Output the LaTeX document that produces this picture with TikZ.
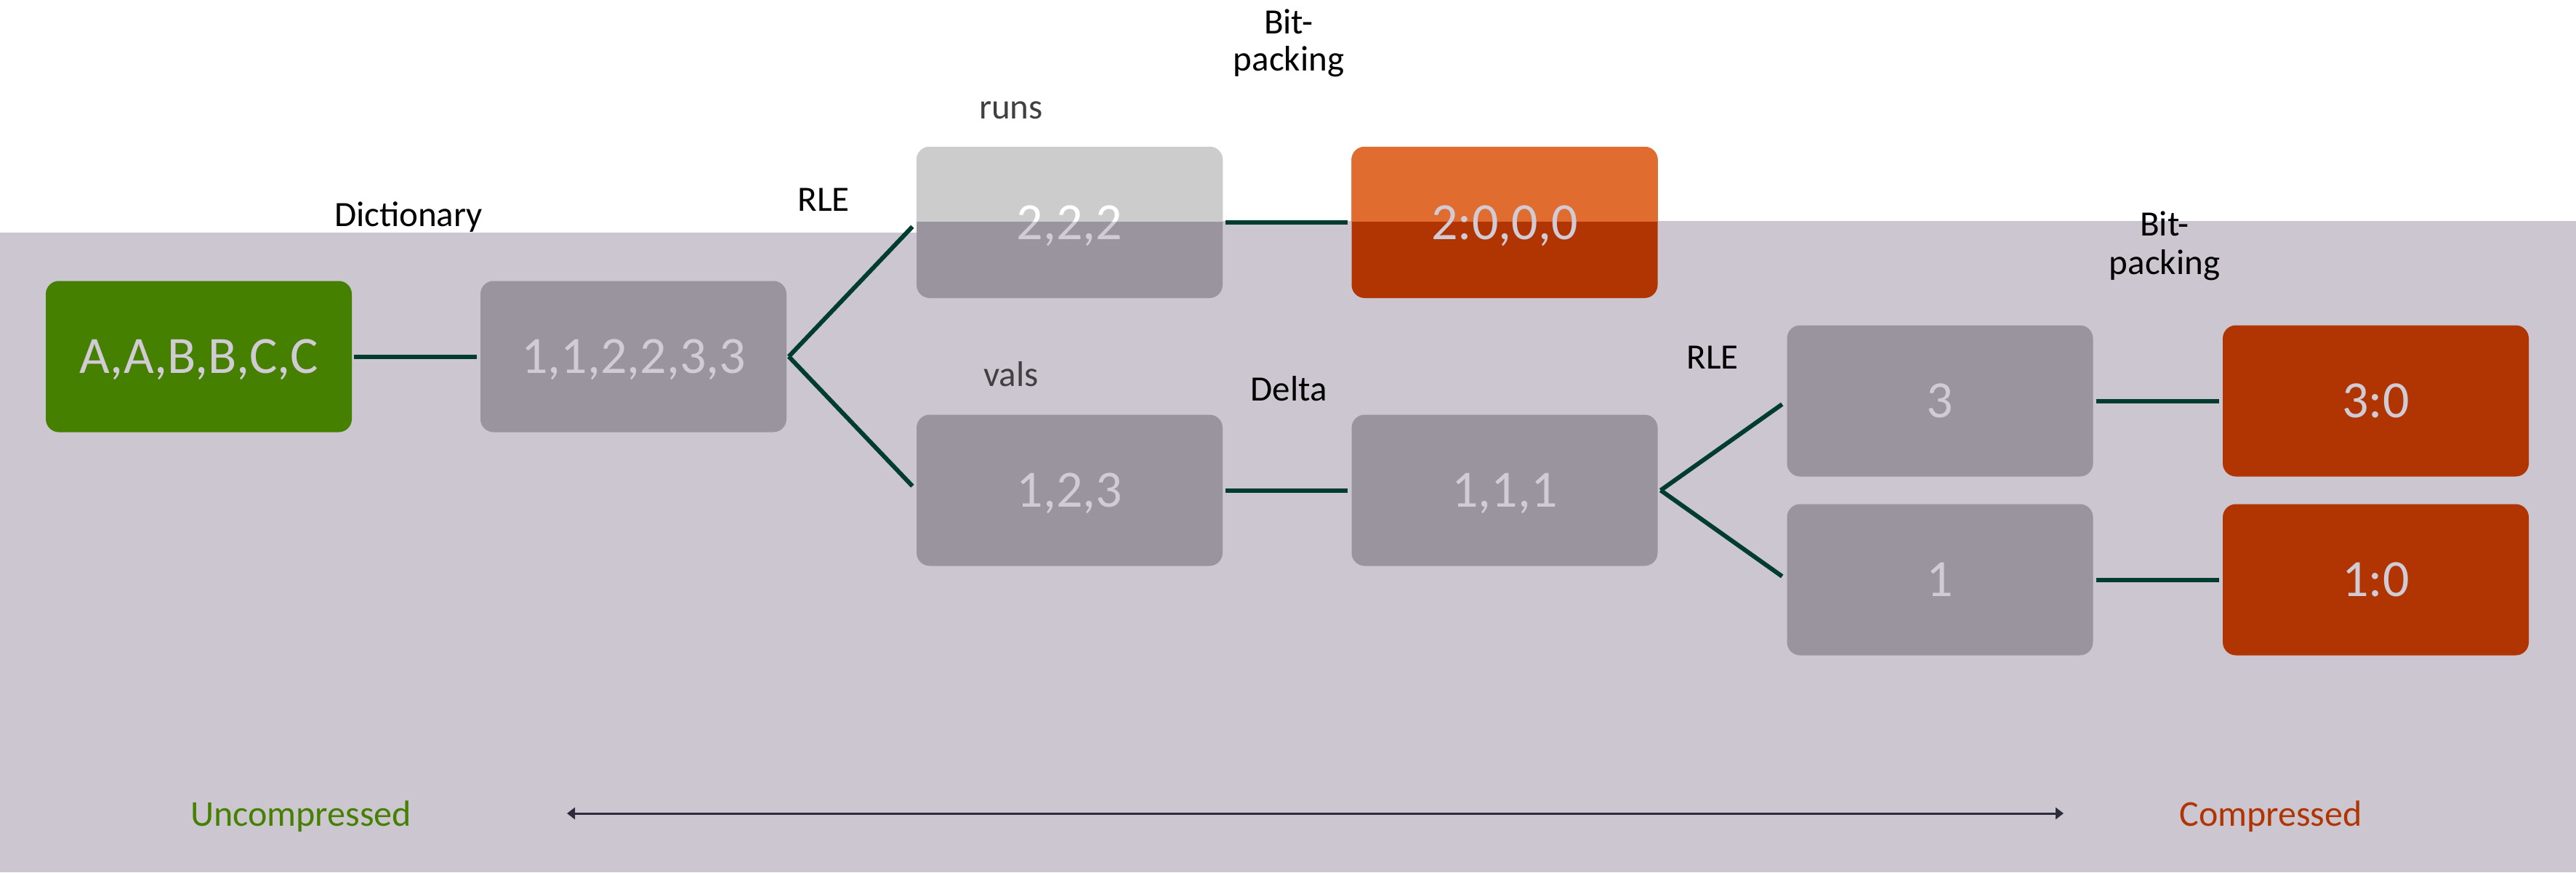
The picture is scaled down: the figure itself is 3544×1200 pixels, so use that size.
\documentclass[tikz,border=0pt]{standalone}
\usepackage{fontspec}
\setmainfont{Carlito}
\usetikzlibrary{arrows.meta}
\definecolor{band}{HTML}{CBC6D0}
\definecolor{gbox}{HTML}{9A949F}
\definecolor{gboxlt}{HTML}{CCCCCC}
\definecolor{obox}{HTML}{B03503}
\definecolor{oboxlt}{HTML}{E06C30}
\definecolor{grn}{HTML}{468000}
\definecolor{conn}{HTML}{003D30}
\definecolor{btxt}{HTML}{D0CBD4}
\definecolor{lbl}{HTML}{404040}
\definecolor{arrc}{HTML}{2E2C3A}
\begin{document}
\begin{tikzpicture}[x=1pt,y=-1pt,
  databox/.style={rounded corners=18pt, minimum width=421pt, minimum height=208pt, inner sep=0pt,
    text=btxt, font=\fontsize{72}{72}\selectfont, text height=46pt, text depth=0pt},
  graybox/.style={databox, fill=gbox},
  orangebox/.style={databox, fill=obox},
  greenbox/.style={databox, fill=grn},
  link/.style={draw=conn, line width=6pt},
  lab/.style={font=\fontsize{49}{49}\selectfont, anchor=base, inner sep=0pt},
]
\useasboundingbox (0,0) rectangle (3544,1200);
\fill[white] (0,0) rectangle (3544,1200);
% background band
\fill[band] (0,320) rectangle (1261,1200);
\fill[band] (1261,304) rectangle (3544,1200);

% boxes
\node[greenbox] (src) at (273.5,490.5) {A,A,B,B,C,C};
\node[graybox] (dict) at (871.5,490.5) {1,1,2,2,3,3};
\node[graybox] (runs) at (1471.5,306) {2,2,2};
\node[orangebox] (bpr) at (2070,306) {2:0,0,0};
\node[graybox] (vals) at (1471.5,674.5) {1,2,3};
\node[graybox] (delta) at (2070,674.5) {1,1,1};
\node[graybox] (r3) at (2669,551.5) {3};
\node[orangebox] (bp3) at (3268.5,551.5) {3:0};
\node[graybox] (r1) at (2669,797.5) {1};
\node[orangebox] (bp1) at (3268.5,797.5) {1:0};

% upper (lighter) parts of the top boxes, above the band
\begin{scope}
  \clip (1200,0) rectangle (2400,304);
  \fill[gboxlt, rounded corners=18pt] (runs.north west) rectangle (runs.south east);
  \node[databox, text=white] at (runs.center) {2,2,2};
  \fill[oboxlt, rounded corners=18pt] (bpr.north west) rectangle (bpr.south east);
  \node[databox] at (bpr.center) {2:0,0,0};
\end{scope}

% connectors
\draw[link, shorten <=3pt, shorten >=5pt] (src.east) -- (dict.west);
\path (dict.east) ++(3,0) coordinate (f1);
\draw[link, shorten >=8pt] (f1) -- (runs.west);
\draw[link, shorten >=8pt] (f1) -- (vals.west);
\draw[link, shorten <=4pt, shorten >=5pt] (runs.east) -- (bpr.west);
\draw[link, shorten <=4pt, shorten >=5pt] (vals.east) -- (delta.west);
\path (delta.east) ++(4,0) coordinate (f2);
\draw[link, shorten >=8pt] (f2) -- (r3.west);
\draw[link, shorten >=8pt] (f2) -- (r1.west);
\draw[link, shorten <=4pt, shorten >=5pt] (r3.east) -- (bp3.west);
\draw[link, shorten <=4pt, shorten >=5pt] (r1.east) -- (bp1.west);

% labels
\node[lab] (ldict) at (562,311) {Dictionary};
\node[lab] (lrle1) at (1133,290) {RLE};
\node[lab, text=lbl] (lruns) at (1391,163) {runs};
\node[lab] (lbit1) at (1773,46) {Bit-};
\node[lab] (lpack1) at (1773,97) {packing};
\node[lab, text=lbl] (lvals) at (1391,531) {vals};
\node[lab] (ldelta) at (1773,551) {Delta};
\node[lab] (lrle2) at (2356,507) {RLE};
\node[lab] (lbit2) at (2978,324) {Bit-};
\node[lab] (lpack2) at (2978,377) {packing};

% bottom scale
\node[lab, text=grn, font=\fontsize{50}{50}\selectfont] (lunc) at (414,1136) {Uncompressed};
\node[lab, text=obox, font=\fontsize{50}{50}\selectfont] (lcomp) at (3124,1136) {Compressed};
\coordinate (al) at (780,1119);
\coordinate (ar) at (2839,1119);
\draw[draw=arrc, line width=3pt, {Triangle[length=11pt,width=16pt]}-{Triangle[length=11pt,width=16pt]}] (al) -- (ar);
\end{tikzpicture}
\end{document}
